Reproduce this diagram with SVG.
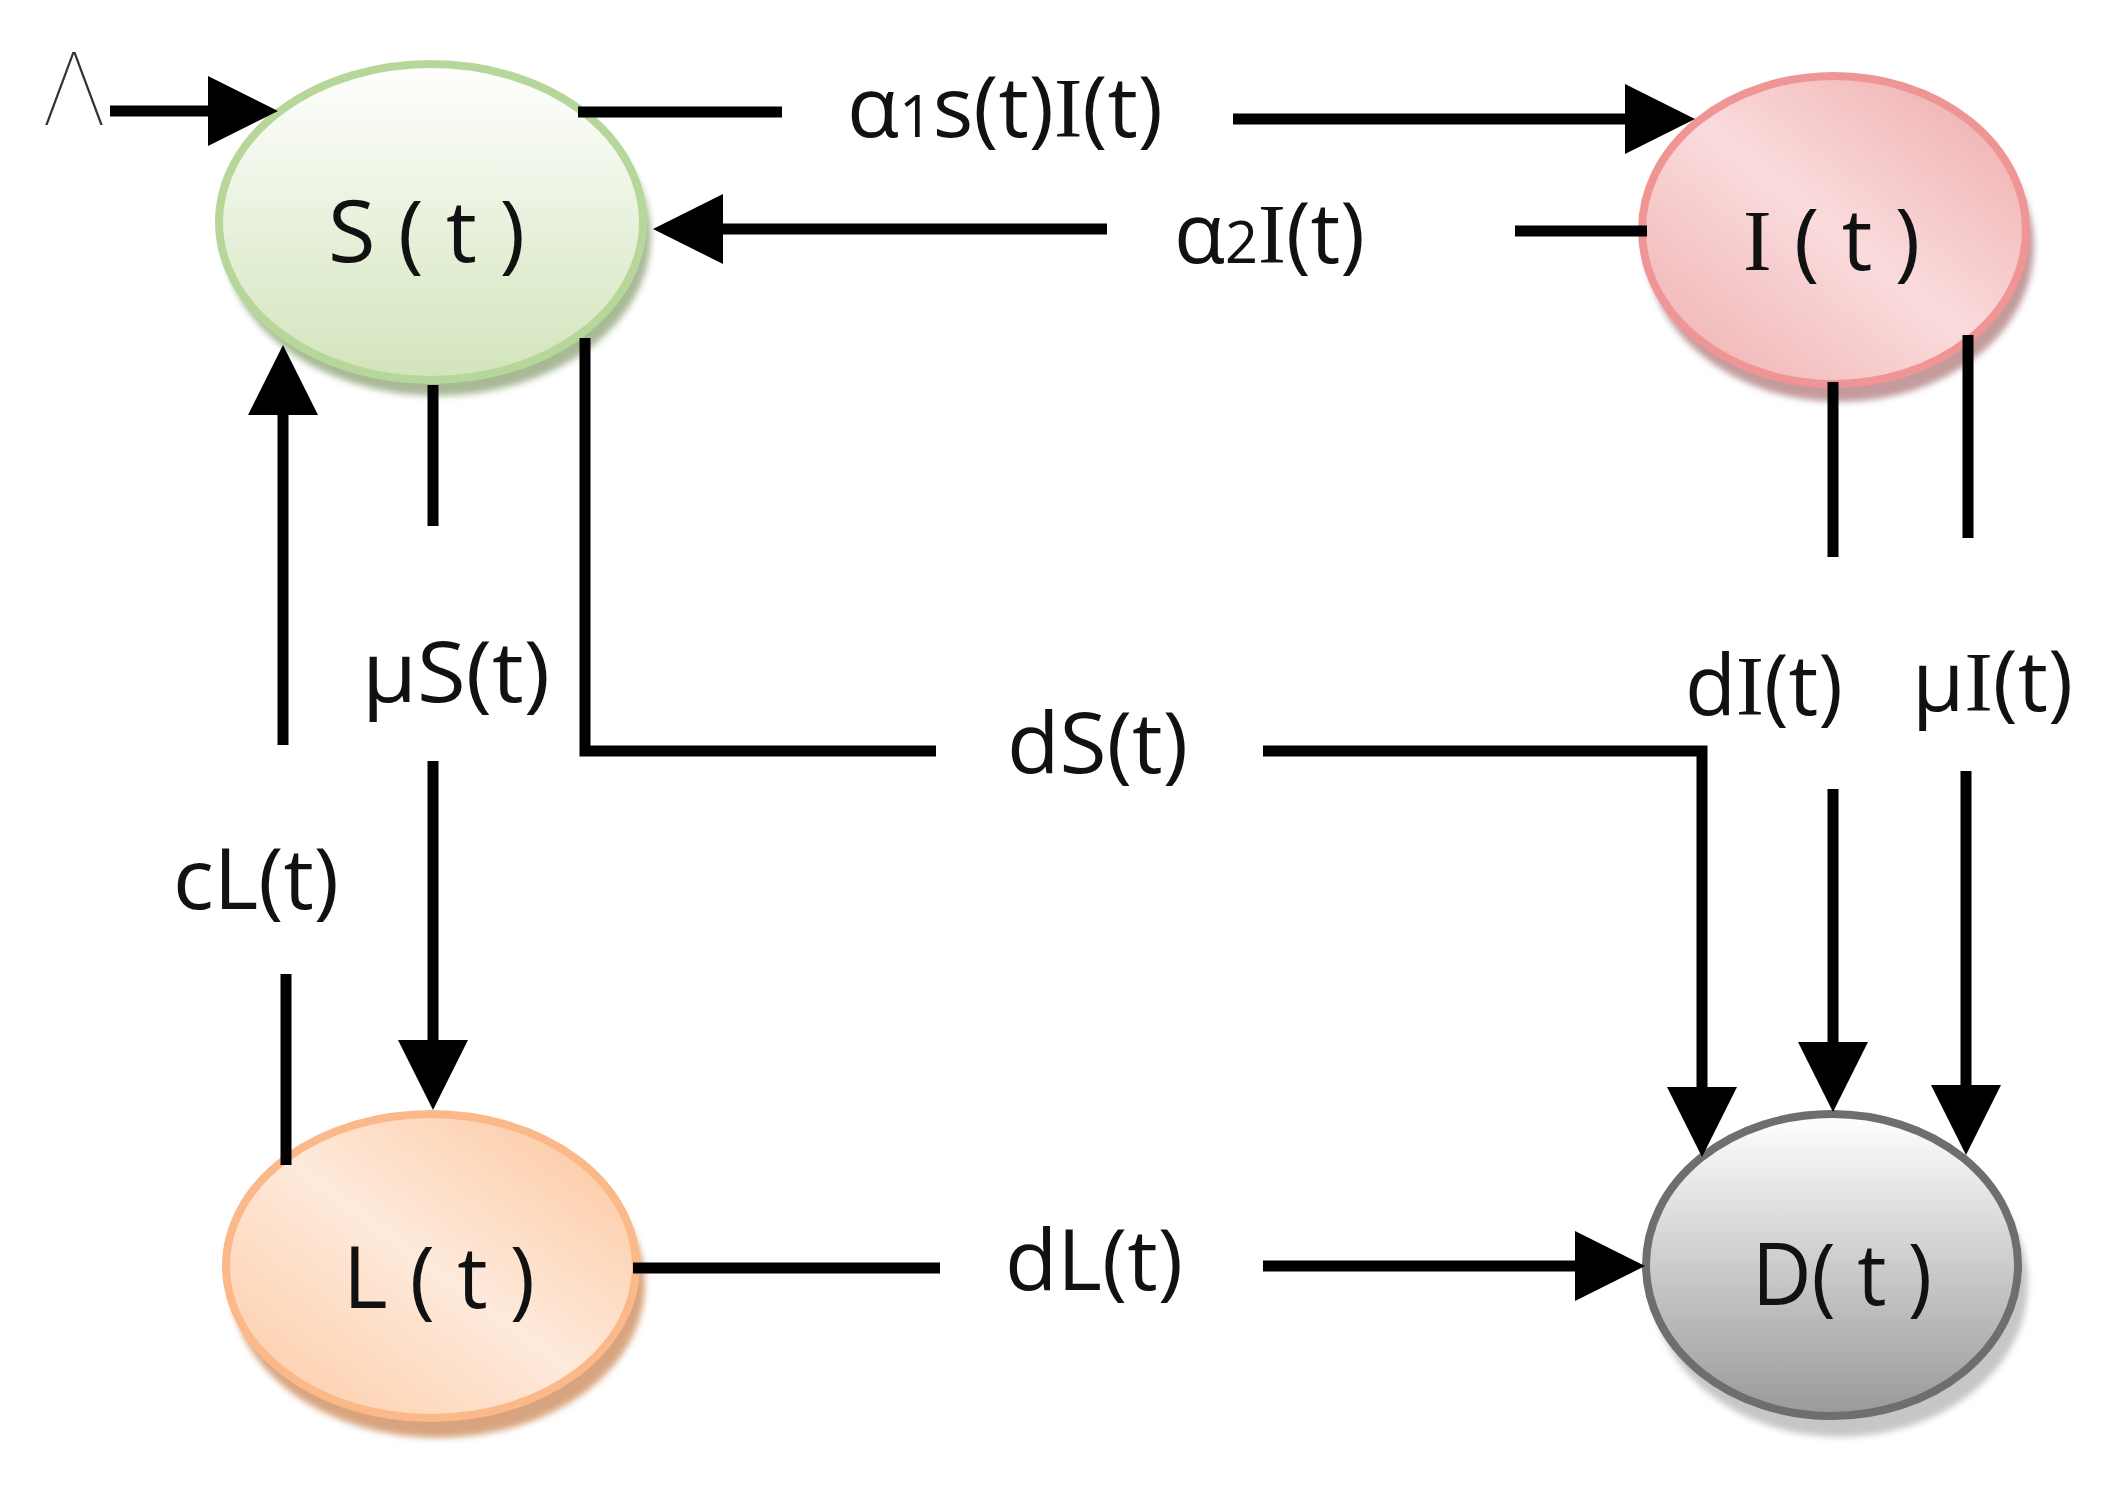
<svg xmlns="http://www.w3.org/2000/svg" width="2104" height="1485" viewBox="0 0 2104 1485">
<style>
.lbl{font-family:"Open Sans","Noto Sans","DejaVu Sans",sans-serif;font-size:84px;fill:#111}
.nlbl{font-family:"Open Sans","Noto Sans","DejaVu Sans",sans-serif;font-size:86px;fill:#111}
.ser{font-family:"Liberation Serif","DejaVu Serif",serif}
.con{fill:none;stroke:#000;stroke-width:11;stroke-linejoin:miter}
.arr{marker-end:url(#ah)}
.sub{font-size:58px}
</style>
<defs>
<marker id="ah" markerUnits="userSpaceOnUse" markerWidth="70" markerHeight="70" viewBox="0 0 70 70" refX="2" refY="35" orient="auto">
<path d="M0,0 L70,35 L0,70 Z" fill="#000"/>
</marker>
<linearGradient id="gS" x1="0" y1="0" x2="0" y2="1">
<stop offset="0" stop-color="#ffffff"/><stop offset="1" stop-color="#d2e4bb"/>
</linearGradient>
<linearGradient id="gI" x1="0" y1="1" x2="1" y2="0">
<stop offset="0" stop-color="#efaeae"/><stop offset="0.5" stop-color="#fadbdc"/><stop offset="1" stop-color="#eea9a9"/>
</linearGradient>
<linearGradient id="gL" x1="0" y1="1" x2="1" y2="0">
<stop offset="0" stop-color="#fcc9a2"/><stop offset="0.5" stop-color="#feeadb"/><stop offset="1" stop-color="#fcc49a"/>
</linearGradient>
<linearGradient id="gD" x1="0" y1="0" x2="0" y2="1">
<stop offset="0" stop-color="#ffffff"/><stop offset="1" stop-color="#999999"/>
</linearGradient>
<filter id="blur" x="-10%" y="-10%" width="120%" height="120%"><feGaussianBlur stdDeviation="3"/></filter>
</defs>
<rect width="2104" height="1485" fill="#ffffff"/>

<g id="node-S">
<ellipse cx="437" cy="236" rx="214" ry="160" fill="#a9b996" filter="url(#blur)"/>
<ellipse cx="431" cy="222" rx="212" ry="158" fill="url(#gS)" stroke="#b7d79a" stroke-width="8"/>
<text class="nlbl" x="328" y="262" textLength="197" lengthAdjust="spacingAndGlyphs">S ( t )</text>
</g>
<g id="node-I">
<ellipse cx="1840" cy="246" rx="194" ry="156" fill="#c39b9d" filter="url(#blur)"/>
<ellipse cx="1834" cy="230" rx="192" ry="154" fill="url(#gI)" stroke="#ef9595" stroke-width="8"/>
<text class="nlbl" x="1743" y="270" textLength="177" lengthAdjust="spacingAndGlyphs"><tspan class="ser">I</tspan> ( t )</text>
</g>
<g id="node-L">
<ellipse cx="438" cy="1284" rx="207" ry="154" fill="#d8a47f" filter="url(#blur)"/>
<ellipse cx="431" cy="1266" rx="205" ry="152" fill="url(#gL)" stroke="#fbb98a" stroke-width="8"/>
<text class="nlbl" x="343" y="1308" textLength="192" lengthAdjust="spacingAndGlyphs">L ( t )</text>
</g>
<g id="node-D">
<ellipse cx="1840" cy="1284" rx="188" ry="153" fill="#c6c6c6" filter="url(#blur)"/>
<ellipse cx="1832" cy="1265" rx="186" ry="151" fill="url(#gD)" stroke="#6e6e6e" stroke-width="8"/>
<text class="nlbl" x="1752" y="1305" textLength="180" lengthAdjust="spacingAndGlyphs">D( t )</text>
</g>
<g id="source">
<text x="74" y="125" text-anchor="middle" font-family="Inter,Lato,'Noto Sans',sans-serif" font-weight="100" font-size="100" fill="#333">Λ</text>
</g>

<g id="connectors">
<path class="con arr" d="M110,111 H210"/>
<path class="con" d="M578,112 H782"/>
<path class="con arr" d="M1233,119 H1627"/>
<path class="con" d="M1647,231 H1515"/>
<path class="con arr" d="M1107,229 H721"/>
<path class="con" d="M433,385 V526"/>
<path class="con arr" d="M433,761 V1042"/>
<path class="con" d="M286,1165 V974"/>
<path class="con arr" d="M283,745 V413"/>
<path class="con" d="M585,338 V751 H936"/>
<path class="con arr" d="M1263,751 H1702 V1089"/>
<path class="con" d="M1833,382 V557"/>
<path class="con arr" d="M1833,789 V1044"/>
<path class="con" d="M1968,335 V538"/>
<path class="con arr" d="M1966,771 V1087"/>
<path class="con" d="M633,1268 H940"/>
<path class="con arr" d="M1263,1266 H1577"/>
</g>

<g id="labels">
<text class="lbl" x="847" y="137" textLength="316" lengthAdjust="spacingAndGlyphs">α<tspan class="sub">1</tspan>s(t)<tspan class="ser">I</tspan>(t)</text>
<text class="lbl" x="1174" y="263" textLength="191" lengthAdjust="spacingAndGlyphs">α<tspan class="sub">2</tspan><tspan class="ser">I</tspan>(t)</text>
<text class="lbl" x="362" y="702" textLength="188" lengthAdjust="spacingAndGlyphs">μS(t)</text>
<text class="lbl" x="1007" y="773" textLength="181" lengthAdjust="spacingAndGlyphs">dS(t)</text>
<text class="lbl" x="173" y="909" textLength="166" lengthAdjust="spacingAndGlyphs">cL(t)</text>
<text class="lbl" x="1005" y="1290" textLength="178" lengthAdjust="spacingAndGlyphs">dL(t)</text>
<text class="lbl" x="1685" y="715" textLength="158" lengthAdjust="spacingAndGlyphs">d<tspan class="ser">I</tspan>(t)</text>
<text class="lbl" x="1912" y="711" textLength="161" lengthAdjust="spacingAndGlyphs">μ<tspan class="ser">I</tspan>(t)</text>
</g>
</svg>
